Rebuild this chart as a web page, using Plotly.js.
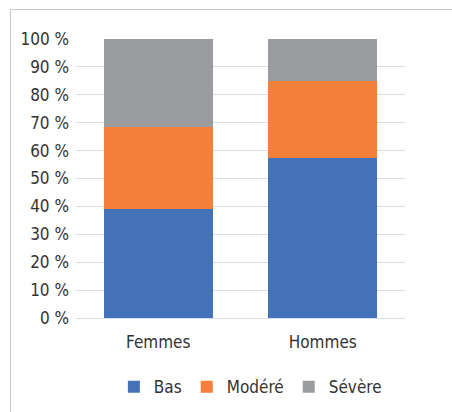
<!DOCTYPE html>
<html>
<head>
<meta charset="utf-8">
<script src="https://cdn.plot.ly/plotly-3.0.1.min.js"></script>
<style>
html,body{margin:0;padding:0;background:#fff;}
#wrap{position:relative;width:452px;height:412px;}
#frame{position:absolute;left:10px;top:9px;width:442px;height:403px;border-left:1px solid #c8c8c8;border-top:1px solid #c8c8c8;box-sizing:border-box;pointer-events:none;}
#chart{position:absolute;left:0;top:0;width:452px;height:412px;}
</style>
</head>
<body>
<div id="wrap"><div id="chart"></div><div id="frame"></div></div>
<script>
var categories = ["Femmes", "Hommes"];
var bas = [39.0, 57.3];
var modere = [29.3, 27.8];
var severe = [31.7, 14.9];
var tickVals = [0,10,20,30,40,50,60,70,80,90,100];
var tickText = ["0 %","10 %","20 %","30 %","40 %","50 %","60 %","70 %","80 %","90 %","100 %"];

var font = "'DejaVu Sans Condensed','Liberation Sans Narrow',sans-serif";
var traces = [
  {type:"bar", name:"Bas", x:categories, y:bas, marker:{color:"#4472b8"}},
  {type:"bar", name:"Modéré", x:categories, y:modere, marker:{color:"#f2803a"}},
  {type:"bar", name:"Sévère", x:categories, y:severe, marker:{color:"#9a9c9f"}}
];
var layout = {
  width:452, height:412,
  margin:{l:76, r:47, t:39, b:94, autoexpand:false},
  barmode:"stack", bargap:0.34,
  paper_bgcolor:"#ffffff", plot_bgcolor:"#ffffff",
  font:{family:font, size:16, color:"#333333"},
  showlegend:true,
  legend:{orientation:"h", x:0.53, xanchor:"center", yref:"container", y:0.06, yanchor:"middle",
          font:{family:font, size:17, color:"#333333"}, traceorder:"normal",
          itemwidth:30, tracegroupgap:0},
  xaxis:{tickfont:{family:font, size:17, color:"#333333"}, showgrid:false, zeroline:false,
         showline:false, ticks:"", fixedrange:true, ticklabelstandoff:12},
  yaxis:{range:[0,100], tickvals:tickVals, ticktext:tickText,
         tickfont:{family:font, size:17, color:"#333333"},
         showgrid:true, gridcolor:"#d6dde6", gridwidth:1, zeroline:true, zerolinecolor:"#d6dde6",
         showline:false, ticks:"", ticklen:0, fixedrange:true, ticklabelstandoff:6}
};
Plotly.newPlot("chart", traces, layout, {displayModeBar:false, staticPlot:true});
</script>
</body>
</html>
